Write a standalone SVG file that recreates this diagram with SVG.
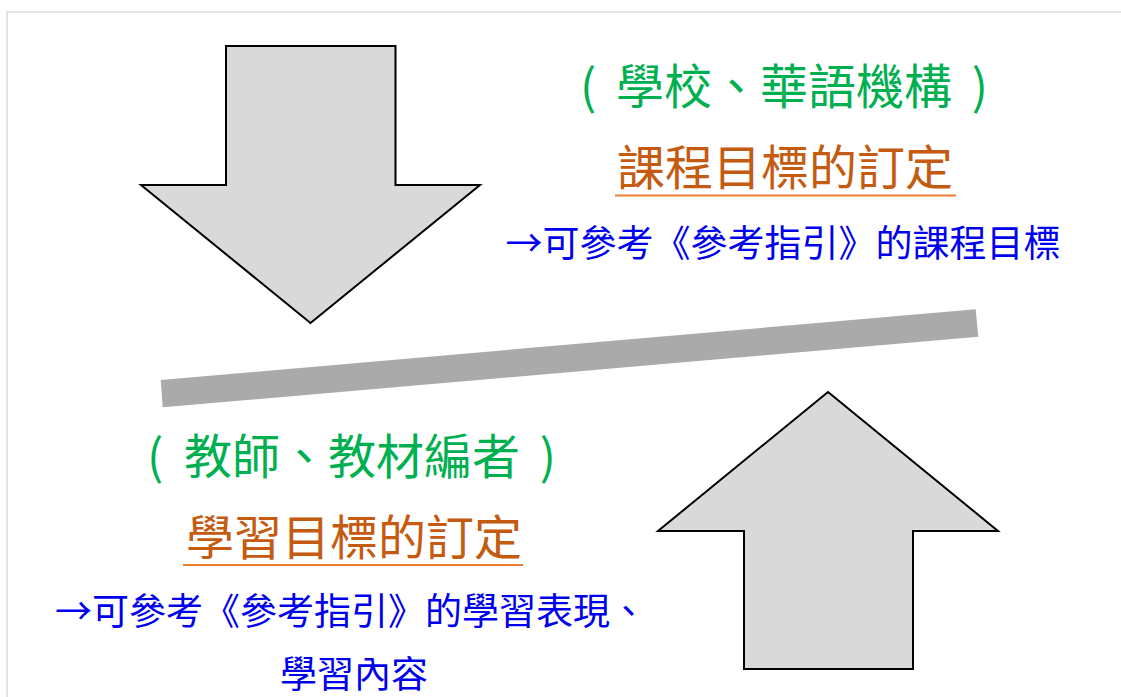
<svg xmlns="http://www.w3.org/2000/svg" width="1121" height="697" viewBox="0 0 1121 697">
<style>
.arrow{fill:#d9d9d9;stroke:#000;stroke-width:2;stroke-linejoin:miter}
text{font-family:"Noto Sans CJK TC","Noto Sans CJK SC",sans-serif;text-anchor:middle}
.g{fill:#00b050;font-size:48px}
.ps{text-anchor:start}
.pe{text-anchor:end}
.o{fill:#c55a11;font-size:48px}
.b{fill:#0000ee;font-size:37px}
.ul{stroke:#ed7d31;stroke-width:2}
</style>
<rect x="7" y="12" width="1200" height="800" fill="#fff" stroke="#dcdcdc" stroke-width="1.5"/>
<g id="connectors">
<polygon id="bar" points="160.7,380 975.7,309.3 978.3,336.7 162.7,407.3" fill="#aaaaaa"/>
</g>
<g id="arrow-down">
<polygon class="arrow" points="226,46 395.5,46 395.5,185 480,185 310.5,323 141,185 226,185"/>
</g>
<g id="arrow-up">
<polygon class="arrow" points="828,392 998,531 913,531 913,669 744,669 744,531 658,531"/>
</g>
<g id="top-text">
<text class="g ps" x="580" y="104">(</text>
<text class="g" x="784" y="104">學校、華語機構</text>
<text class="g pe" x="988" y="104">)</text>
<text class="o" x="785" y="185">課程目標的訂定</text>
<line class="ul" x1="615" y1="195.5" x2="956" y2="195.5"/>
<text class="b" x="783" y="257">→可參考《參考指引》的課程目標</text>
</g>
<g id="bottom-text">
<text class="g ps" x="147" y="474">(</text>
<text class="g" x="352" y="474">教師、教材編者</text>
<text class="g pe" x="556" y="474">)</text>
<text class="o" x="354" y="555">學習目標的訂定</text>
<line class="ul" x1="183" y1="565" x2="523" y2="565"/>
<text class="b" x="351" y="625">→可參考《參考指引》的學習表現、</text>
<text class="b" x="354" y="688">學習內容</text>
</g>
</svg>
